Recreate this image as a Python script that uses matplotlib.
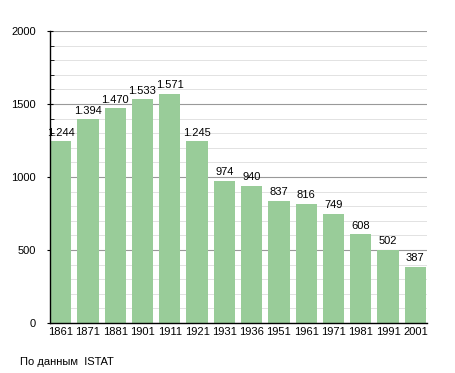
import matplotlib
matplotlib.use("Agg")
import matplotlib.pyplot as plt
import numpy as np

years = ["1861", "1871", "1881", "1901", "1911", "1921", "1931", "1936",
         "1951", "1961", "1971", "1981", "1991", "2001"]
population = [1244, 1394, 1470, 1533, 1571, 1245, 974, 940,
              837, 816, 749, 608, 502, 387]

plt.rcParams['font.family'] = ['Liberation Sans', 'DejaVu Sans']

fig = plt.figure(figsize=(4.55, 3.73), dpi=100)
ax = fig.add_axes([0.110, 0.134, 0.828, 0.783])

x = np.arange(len(years))
ax.bar(x, population, width=0.78, color='#99cc99', zorder=2)

for xi, v in zip(x, population):
    lab = f"{v:,}".replace(",", ".")
    ax.text(xi, v + 25, lab, ha='center', va='bottom', fontsize=8)

ax.set_xlim(-0.39, 13.42)
ax.set_ylim(0, 2000)
ax.set_xticks(x)
ax.set_xticklabels(years, fontsize=8)
ax.set_yticks([0, 500, 1000, 1500, 2000])
ax.set_yticklabels(["0", "500", "1000", "1500", "2000"], fontsize=8)
ax.set_yticks(np.arange(0, 2001, 100), minor=True)
ax.grid(axis='y', which='major', color='#999999', linewidth=0.8, zorder=0)
ax.grid(axis='y', which='minor', color='#dddddd', linewidth=0.6, zorder=0)
ax.tick_params(axis='x', length=0, pad=3)
ax.tick_params(axis='y', which='major', length=4, direction='inout', pad=8)
ax.tick_params(axis='y', which='minor', length=3, direction='in')

for s in ['top', 'right']:
    ax.spines[s].set_visible(False)
ax.spines['left'].set_linewidth(1.0)
ax.spines['bottom'].set_linewidth(1.0)

fig.text(20 / 455, 1 - 362 / 373, "По данным  ISTAT", fontsize=8, va='center')

fig.savefig("out.png", dpi=100)
